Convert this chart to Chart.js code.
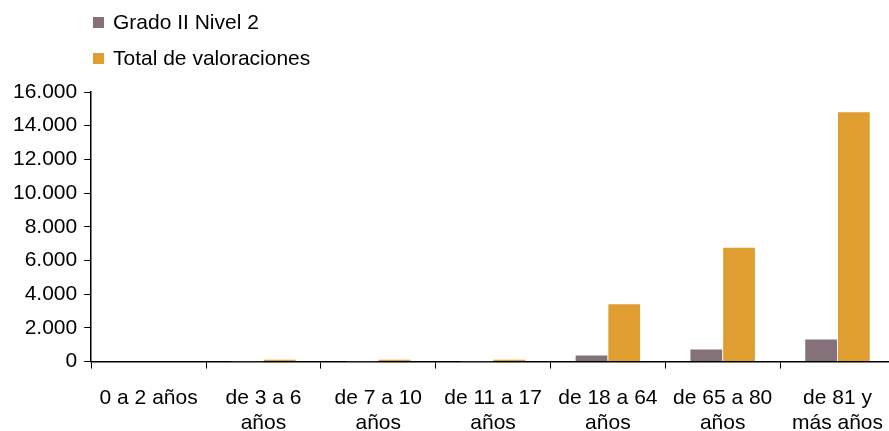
<!DOCTYPE html>
<html>
<head>
<meta charset="utf-8">
<script src="https://cdn.jsdelivr.net/npm/chart.js@4/dist/chart.umd.min.js"></script>
<style>
    body { margin: 0; background: #fff; }
    #wrap { position: relative; width: 889px; height: 431px; overflow: hidden; }
    #legend { position: absolute; left: 93px; top: 9px; font-family: "Liberation Sans", Arial, sans-serif; font-size: 21px; color: #000; }
    #legend div { height: 36px; line-height: 26px; }
    #legend span.box { display: inline-block; width: 11px; height: 11px; margin-right: 9px; vertical-align: 1px; }
</style>
</head>
<body>
<div id="wrap">
    <canvas id="chart" width="900" height="431"></canvas>
    <div id="legend"></div>
</div>
<script>
const categories = ['0 a 2 años', ['de 3 a 6', 'años'], ['de 7 a 10', 'años'], ['de 11 a 17', 'años'], ['de 18 a 64', 'años'], ['de 65 a 80', 'años'], ['de 81 y', 'más años']];
const gradoII = [0, 5, 5, 5, 360, 720, 1310];
const totalValoraciones = [0, 110, 110, 110, 3400, 6750, 14800];
const yTicks = [0, 2000, 4000, 6000, 8000, 10000, 12000, 14000, 16000];

const seriesNames = ['Grado II Nivel 2', 'Total de valoraciones'];
const seriesColors = ['#857179', '#df9e2f'];

Chart.defaults.font.family = '"Liberation Sans", Arial, sans-serif';
Chart.defaults.font.size = 21;
Chart.defaults.color = '#000';

const ctx = document.querySelector('#chart').getContext('2d');

new Chart(ctx, {
    type: 'bar',
    data: {
        labels: categories,
        datasets: [
            {
                label: seriesNames[0],
                data: gradoII,
                backgroundColor: seriesColors[0],
                categoryPercentage: 0.57,
                barPercentage: 0.97
            },
            {
                label: seriesNames[1],
                data: totalValoraciones,
                backgroundColor: seriesColors[1],
                categoryPercentage: 0.57,
                barPercentage: 0.97
            }
        ]
    },
    options: {
        responsive: false,
        animation: false,
        layout: { padding: { top: 92, right: 0, left: 6, bottom: -22 } },
        plugins: {
            legend: { display: false },
            tooltip: { enabled: false }
        },
        scales: {
            x: {
                grid: { display: true, drawOnChartArea: false, color: '#000', tickLength: 7, offset: true },
                border: { color: '#000', width: 1.5 },
                ticks: { padding: 17, maxRotation: 0, autoSkip: false, font: { lineHeight: 1.2 } }
            },
            y: {
                min: 0,
                max: 16000,
                afterBuildTicks: axis => { axis.ticks = yTicks.map(v => ({ value: v })); },
                grid: { display: true, drawOnChartArea: false, color: '#000', tickLength: 7 },
                border: { color: '#000', width: 1.5 },
                ticks: {
                    padding: 7,
                    callback: v => v.toString().replace(/\B(?=(\d{3})+(?!\d))/g, '.')
                }
            }
        }
    }
});

// legend stacked like the original
const legend = document.querySelector('#legend');
seriesNames.forEach((name, i) => {
    const row = document.createElement('div');
    row.innerHTML = '<span class="box" style="background:' + seriesColors[i] + '"></span>' + name;
    legend.appendChild(row);
});
</script>
</body>
</html>
